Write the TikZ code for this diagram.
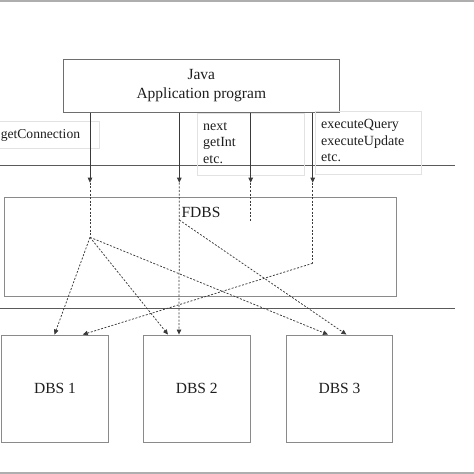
\documentclass[tikz,border=0pt]{standalone}
\usepackage{fontspec}
\setmainfont{Liberation Serif}
\usetikzlibrary{arrows.meta}
\definecolor{txt}{HTML}{1E1E1E}
\definecolor{darkline}{HTML}{3A3A3A}
\definecolor{boxgray}{HTML}{6E6E6E}
\definecolor{dbsgray}{HTML}{8A8A8A}
\definecolor{rulegray}{HTML}{5A5A5A}
\definecolor{bordergray}{HTML}{AEAEAE}
\definecolor{lblgray}{HTML}{E2E2E2}
\begin{document}
\begin{tikzpicture}[x=1pt,y=-1pt,
  bigtext/.style={font=\fontsize{15.5}{18.7}\selectfont, text=txt},
  smalltext/.style={font=\fontsize{14}{16.5}\selectfont, text=txt, inner sep=0pt},
  box/.style={draw=boxgray, line width=0.9pt, inner sep=0pt, bigtext},
  dbsbox/.style={draw=dbsgray, line width=1pt, inner sep=0pt, bigtext,
    minimum width=106.6pt, minimum height=107.3pt},
  lblbox/.style={draw=lblgray, line width=0.6pt, inner sep=0pt},
  call/.style={draw=darkline, line width=0.8pt, -{Triangle[length=5pt,width=4.5pt]}},
  flow/.style={draw=darkline, line width=0.75pt, dash pattern=on 2pt off 1.6pt},
  flowarr/.style={flow, -{Triangle[length=5pt,width=4.5pt]}},
  rule/.style={draw=rulegray, line width=0.8pt},
  border/.style={draw=bordergray, line width=2.2pt},
]
\useasboundingbox (0,0) rectangle (474,474);

% border rules
\draw[border] (0,1) -- (474,1);
\draw[border] (0,473) -- (474,473);

% layer rules
\draw[rule] (0,165.7) -- (455,165.7);
\draw[rule] (0,308.3) -- (455,308.3);

% main boxes
\node[box, minimum width=276pt, minimum height=52.7pt, align=center]
  (java) at (201.3,85.7) {Java\\Application program};
\node[box, draw=dbsgray, minimum width=392.4pt, minimum height=98.7pt]
  (fdbs) at (200.5,246.7) {};
\node[bigtext, inner sep=0pt, anchor=base] (fdbstext) at (201,217.3) {FDBS};

\node[dbsbox] (dbs1) at (55,388.7) {DBS 1};
\node[dbsbox] (dbs2) at (196.8,388.7) {DBS 2};
\node[dbsbox] (dbs3) at (339.5,388.7) {DBS 3};

% label frames
\node[lblbox, minimum width=101.3pt, minimum height=27pt] (lconn) at (48.6,134.5) {};
\node[smalltext, font=\fontsize{13.6}{16.5}\selectfont, anchor=base west] (tconn) at (0.6,138.3) {getConnection};

\node[lblbox, minimum width=107pt, minimum height=62pt] (lnext) at (250.5,144) {};
\node[smalltext, anchor=base west] (tnext1) at (203,130) {next};
\node[smalltext, anchor=base west] (tnext2) at (203,146.5) {getInt};
\node[smalltext, anchor=base west] (tnext3) at (203,163) {etc.};

\node[lblbox, minimum width=106.7pt, minimum height=63pt] (lexec) at (368.3,142.5) {};
\node[smalltext, anchor=base west] (texec1) at (321,128.5) {executeQuery};
\node[smalltext, anchor=base west] (texec2) at (321,145) {executeUpdate};
\node[smalltext, anchor=base west] (texec3) at (321,161.5) {etc.};

% arrow tips at FDBS entry
\coordinate (t1) at (90,182.7);
\coordinate (t2) at (179.3,182.7);
\coordinate (t3) at (250.7,182.7);
\coordinate (t4) at (312.7,182.7);

% junctions inside FDBS
\coordinate (p1) at (90,237.3);
\coordinate (p2) at (179.3,220);
\coordinate (p3) at (250.7,221.7);
\coordinate (p4) at (312.7,263.3);

% calls from the application
\draw[call] (java.south -| t1) -- (t1);
\draw[call] (java.south -| t2) -- (t2);
\draw[call] (java.south -| t3) -- (t3);
\draw[call] (java.south -| t4) -- (t4);

% flows through FDBS
\draw[flow] (t1) -- (p1);
\draw[flow] (t3) -- (p3);
\draw[flow] (t4) -- (p4);
\draw[flowarr] (p1) -- ([xshift=53.3pt]dbs1.north west);
\draw[flowarr] (p1) -- ([xshift=25pt]dbs2.north west);
\draw[flowarr] (p1) -- ([xshift=42.3pt]dbs3.north west);
\draw[flowarr] (t2) -- ([xshift=36pt]dbs2.north west);
\draw[flowarr] (p2) -- ([xshift=60.7pt]dbs3.north west);
\draw[flowarr] (p4) -- ([xshift=81.6pt]dbs1.north west);
\end{tikzpicture}
\end{document}
